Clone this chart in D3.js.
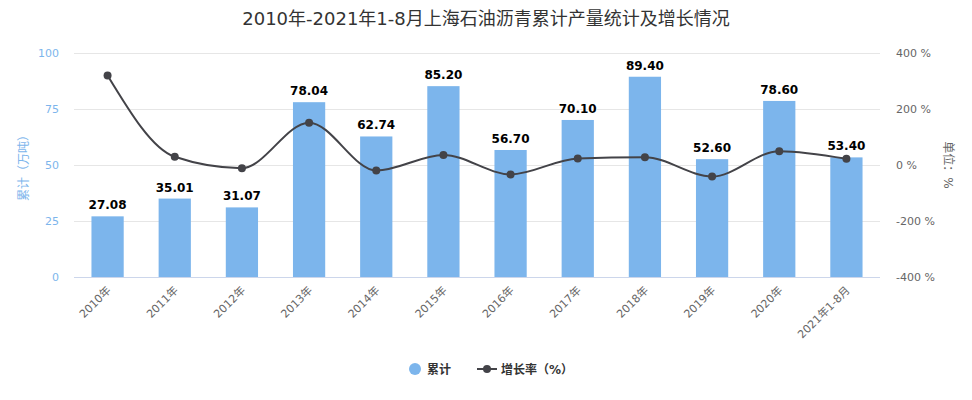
<!DOCTYPE html>
<html><head><meta charset="utf-8">
<script src="https://cdn.jsdelivr.net/npm/d3@7"></script>
<style>
body{margin:0;background:#fff;}
text{font-family:"DejaVu Sans","Noto Sans CJK SC",sans-serif;}
</style></head>
<body><svg id="c" width="972" height="400"></svg>
<script>
const categories = ["2010年","2011年","2012年","2013年","2014年","2015年","2016年","2017年","2018年","2019年","2020年","2021年1-8月"];
const cumulative = [27.08,35.01,31.07,78.04,62.74,85.20,56.70,70.10,89.40,52.60,78.60,53.40];
const growth = [320,29.3,-11.3,151.2,-19.6,35.8,-33.5,23.6,27.5,-41.2,49.4,22.0];
const leftTicks = [0,25,50,75,100];
const rightTicks = [-400,-200,0,200,400];
const title = "2010年-2021年1-8月上海石油沥青累计产量统计及增长情况";

const svg = d3.select("#c");
const L = 74, R = 880, T = 53, B = 277;
const x = d3.scaleBand().domain(categories).range([L,R]).paddingInner(0.52).paddingOuter(0.26);
const xc = d => x(d) + x.bandwidth()/2;
const yL = d3.scaleLinear().domain([0,100]).range([B,T]);
const yR = d3.scaleLinear().domain([-400,400]).range([B,T]);

svg.append("text").attr("x",486).attr("y",25).attr("text-anchor","middle")
  .attr("font-size",18).attr("fill","#333").text(title);

// grid
svg.append("g").selectAll("line").data(leftTicks.slice(1)).join("line")
  .attr("x1",L).attr("x2",R).attr("y1",d=>yL(d)+0.5).attr("y2",d=>yL(d)+0.5)
  .attr("stroke","#e6e6e6");
// bottom axis line
svg.append("line").attr("x1",L).attr("x2",R).attr("y1",B+0.5).attr("y2",B+0.5).attr("stroke","#ccd6eb");

// left axis labels
const la = svg.append("g").attr("transform",`translate(${L-15},0)`)
  .call(d3.axisLeft(yL).tickValues(leftTicks).tickSize(0).tickPadding(0));
la.select(".domain").remove();
la.selectAll("text").attr("fill","#7cb5ec").attr("font-size",11).attr("font-family",null);
// right axis labels
const ra = svg.append("g").attr("transform",`translate(${R+16},0)`)
  .call(d3.axisRight(yR).tickValues(rightTicks).tickSize(0).tickPadding(0).tickFormat(d=>d+" %"));
ra.select(".domain").remove();
ra.selectAll("text").attr("fill","#666").attr("font-size",11).attr("font-family",null);

// axis titles
svg.append("text").attr("transform",`translate(24,${(T+B)/2}) rotate(-90)`).attr("text-anchor","middle")
  .attr("dominant-baseline","middle").attr("font-size",12).attr("fill","#7cb5ec").text("累计（万吨）");
svg.append("text").attr("transform",`translate(947,${(T+B)/2}) rotate(90)`).attr("text-anchor","middle")
  .attr("dominant-baseline","middle").attr("font-size",12).attr("fill","#666").text("单位：%");

// x labels
const xa = svg.append("g").attr("transform",`translate(0,${B})`)
  .call(d3.axisBottom(x).tickSize(0).tickPadding(0));
xa.select(".domain").remove();
xa.selectAll("text").attr("fill","#666").attr("font-size",11).attr("font-family",null)
  .attr("text-anchor","end").attr("dy",null).attr("y",null)
  .attr("transform","translate(4,14) rotate(-45)");

// bars
svg.append("g").selectAll("rect").data(cumulative).join("rect")
  .attr("x",(d,i)=>x(categories[i])).attr("width",x.bandwidth())
  .attr("y",d=>yL(d)).attr("height",d=>B-yL(d)).attr("fill","#7cb5ec");
// bar labels
svg.append("g").selectAll("text").data(cumulative).join("text")
  .attr("x",(d,i)=>xc(categories[i])).attr("y",d=>yL(d)-7)
  .attr("text-anchor","middle").attr("font-size",12).attr("font-weight","bold")
  .attr("fill","#000").attr("stroke","#fff").attr("stroke-width",2).attr("paint-order","stroke")
  .text(d=>d.toFixed(2));

// line
const line = d3.line().x((d,i)=>xc(categories[i])).y(d=>yR(d)).curve(d3.curveMonotoneX);
svg.append("path").datum(growth).attr("d",line).attr("fill","none").attr("stroke","#434348").attr("stroke-width",2);
svg.append("g").selectAll("circle").data(growth).join("circle")
  .attr("cx",(d,i)=>xc(categories[i])).attr("cy",d=>yR(d)).attr("r",4).attr("fill","#434348");

// legend
const lg = svg.append("g");
lg.append("circle").attr("cx",415).attr("cy",369).attr("r",6).attr("fill","#7cb5ec");
lg.append("text").attr("x",427).attr("y",373.5).attr("font-size",12).attr("font-weight","bold").attr("fill","#333").text("累计");
lg.append("line").attr("x1",477).attr("x2",497).attr("y1",369).attr("y2",369).attr("stroke","#434348").attr("stroke-width",2);
lg.append("circle").attr("cx",487).attr("cy",369).attr("r",4).attr("fill","#434348");
lg.append("text").attr("x",501).attr("y",373.5).attr("font-size",12).attr("font-weight","bold").attr("fill","#333").text("增长率（%）");
</script></body></html>
